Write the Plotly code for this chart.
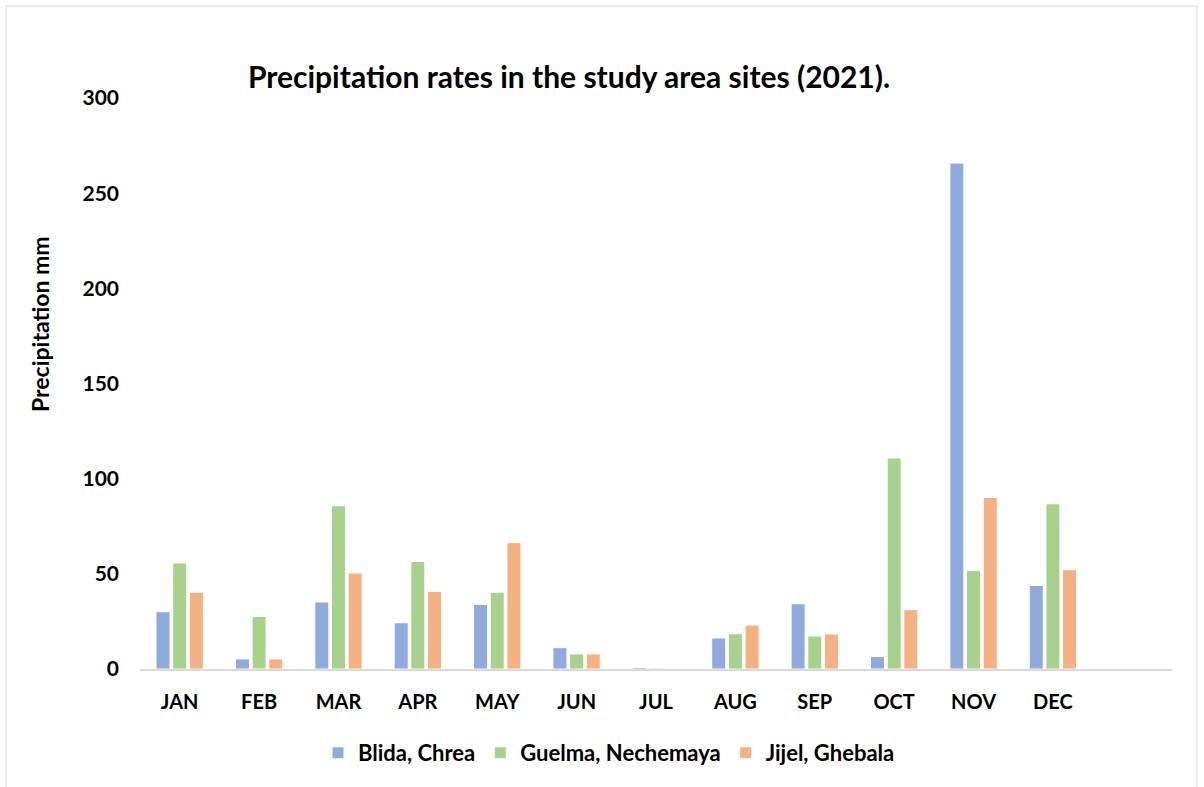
import plotly.graph_objects as go

months = ["JAN", "FEB", "MAR", "APR", "MAY", "JUN", "JUL", "AUG", "SEP", "OCT", "NOV", "DEC"]
blida_chrea = [30.1, 5.3, 35.2, 24.3, 33.9, 11.2, 0.8, 16.3, 34.3, 6.6, 265.8, 43.9]
guelma_nechemaya = [55.7, 27.6, 85.8, 56.5, 40.3, 7.9, 0.5, 18.5, 17.3, 110.9, 51.8, 86.8]
jijel_ghebala = [40.3, 5.3, 50.4, 40.8, 66.4, 7.9, 0.0, 23.1, 18.4, 31.2, 90.1, 52.2]

series_names = ["Blida, Chrea", "Guelma, Nechemaya", "Jijel, Ghebala"]
series_values = [blida_chrea, guelma_nechemaya, jijel_ghebala]
series_colors = ["#8FAADC", "#A9D18E", "#F4B183"]

y_ticks = [0, 50, 100, 150, 200, 250, 300]

FONT = "Lato"
W, H = 1204, 787
L, R, T, B = 140, 32, 98, 118
pw, ph = W - L - R, H - T - B

fig = go.Figure()
for name, vals, col in zip(series_names, series_values, series_colors):
    fig.add_trace(go.Bar(
        x=months, y=vals, name=name,
        marker=dict(color=col, line=dict(color="white", width=1)),
    ))

def px_x(x):
    return (x - L) / pw

def px_y(y):
    return (H - B - y) / ph

fig.update_layout(
    width=W, height=H,
    margin=dict(l=L, r=R, t=T, b=B),
    paper_bgcolor="white", plot_bgcolor="white",
    barmode="group", bargap=0.37, bargroupgap=0.16,
    font=dict(family=FONT, color="black"),
    title=dict(
        text="<b>Precipitation rates in the study area sites (2021).</b>",
        font=dict(family=FONT, size=30, color="black"),
        x=569 / W, xref="container", xanchor="center",
        y=1 - 77 / H, yref="container", yanchor="middle",
    ),
    xaxis=dict(
        type="category", categoryorder="array", categoryarray=months,
        range=[-0.5, 12.5],
        showline=True, linecolor="#D9D9D9", linewidth=2,
        showgrid=False, ticks="", ticklabelstandoff=14,
        tickfont=dict(family=FONT, size=20, color="black", weight="bold"),
    ),
    yaxis=dict(
        range=[0, 300], tickvals=y_ticks,
        showline=False, showgrid=False, zeroline=False, ticks="",
        ticklabelstandoff=20,
        tickfont=dict(family=FONT, size=21, color="black", weight="bold"),
    ),
    legend=dict(
        orientation="h", xref="container", yref="container",
        x=609 / W, xanchor="center", y=1 - 753 / H, yanchor="middle",
        font=dict(family=FONT, size=22, color="black", weight="bold"),
        itemwidth=30, traceorder="normal",
    ),
    annotations=[dict(
        text="<b>Precipitation mm</b>", textangle=-90,
        xref="paper", yref="paper", x=px_x(40), y=px_y(324),
        xanchor="center", yanchor="middle", showarrow=False,
        font=dict(family=FONT, size=23, color="black"),
    )],
    shapes=[dict(
        type="rect", xref="paper", yref="paper",
        x0=px_x(6), x1=px_x(1197), y0=px_y(800), y1=px_y(6),
        line=dict(color="#D9D9D9", width=1), fillcolor="rgba(0,0,0,0)",
        layer="below",
    )],
)

fig.write_html("out.html")
